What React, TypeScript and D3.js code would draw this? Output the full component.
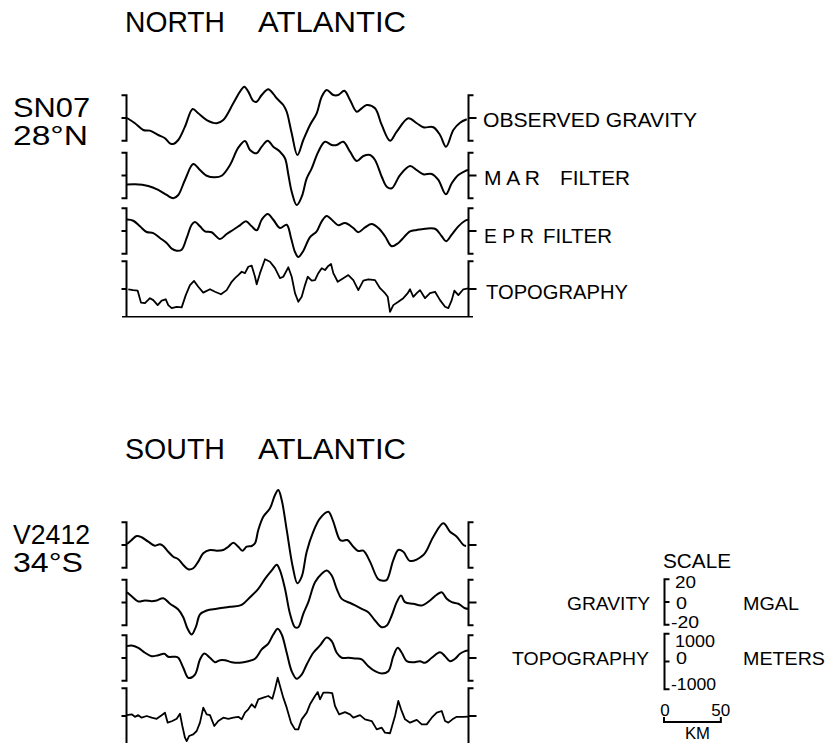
import React from "react";
import * as d3 from "d3";

const W = 829;
const H = 743;

// Profiles: [distance along track (km), value]. Gravity in mGal, topography in metres.
const northObserved: [number, number][] = [
  [0, 0], [7, -4.6], [14.3, -10.5], [20.2, -11.1], [27.5, -14.9], [33.4, -17.8], [37.8, -22.2],
  [40.7, -22.8], [45.1, -19.3], [51, -7.6], [57.8, 7.9], [62.7, 4.1], [70.1, -1.8], [78.9, -4.6],
  [84.7, -1.8], [93.5, 12.9], [99.4, 23.1], [103.2, 27.5], [106.7, 23.1], [111.1, 14.9],
  [114.1, 14.3], [118.5, 20.2], [124.3, 25.2], [128.7, 21.1], [131.7, 17.3], [137.5, 11.4],
  [140.5, 5.5], [144.9, -13.4], [149.9, -32.5], [155.1, -19.3], [161, -6.1], [166.9, 4.1],
  [171.3, 18.7], [175.7, 24.6], [181.5, 20.2], [185.9, 20.2], [191.2, 23.9], [196.2, 15.8],
  [202.1, 5.5], [206.5, 8.5], [210.9, 11.4], [218.2, 8.5], [224.1, -6.1], [231.4, -19.9],
  [237.3, -12], [247.5, -0.3], [254.9, -4.6], [260.7, -8.1], [269.5, -8.1], [275.4, -14.9],
  [280.7, -25.2], [287.1, -10.5], [293, -4.1], [298.9, -1.1],
];

const northMar: [number, number][] = [
  [0, -8], [7, -7.7], [18.7, -9.2], [27.5, -12.7], [34.9, -17.1], [40.7, -20], [45.1, -17.1],
  [51, -3.9], [58.3, 10.1], [64.2, 4.8], [70.1, -0.2], [77.4, -1.6], [83.3, -0.2], [90.6, 9.2],
  [97.9, 24.4], [103.8, 30.3], [108.2, 22.4], [114.1, 19.5], [118.5, 25.3], [123.8, 30.5],
  [128.7, 25.3], [134.6, 20.9], [139, 15.1], [142, 0.4], [144.9, -14.2], [149.3, -25.9],
  [153.7, -18.6], [158.1, -2.5], [162.5, 6.3], [168.3, 20.9], [174.2, 29.6], [180.1, 26.8],
  [184.5, 26.8], [190.3, 29.6], [196.2, 20.9], [202.1, 12.7], [208, 17.1], [213.8, 18],
  [218.2, 13.6], [224.1, -1.1], [228.5, -9.8], [232.9, -11.2], [240.2, 0.4], [249, 8.3],
  [254.9, 4.8], [260.7, 1.1], [268.1, 1.3], [273.9, -3.9], [280.5, -16.5], [285.7, -6.8],
  [291.5, 0.4], [297.4, 3.9], [300, 4.8],
];

const northEpr: [number, number][] = [
  [0, 10], [5.5, 9], [11.4, 4.1], [17.3, -0.9], [23.1, -1.8], [29, -6.1], [34.9, -10.5],
  [39.3, -15.5], [43.7, -17.3], [48.1, -16.4], [52.5, -6.1], [56.9, 5.5], [59.8, 7.9],
  [64.2, 4.1], [68.6, -0.3], [74.5, -1.1], [81.8, -7], [87.7, -2.6], [93.5, 1.1], [99.4, 5],
  [104.7, 8.5], [109.7, 4.1], [114.1, 0.6], [118.5, 9.9], [123.8, 14.9], [128.7, 9.9],
  [134.6, 2.6], [140.5, 5.5], [144.3, -6.1], [147.8, -18.4], [150.7, -22.8], [155.1, -17.5],
  [161, -5.3], [166.9, -0.3], [171.3, 8.5], [175.7, 13.2], [181.5, 8.5], [185.9, 5],
  [191.8, 7], [199.1, 2.6], [203.5, -1.1], [209.4, 3.2], [215.3, 6.1], [221.1, 2.6],
  [227, -4.6], [232.9, -13.4], [238.7, -10.5], [249, -0.4], [254.9, 0.9], [262.2, 2],
  [271, 2], [276.9, -4.6], [280.7, -9], [285.7, -3.2], [291.5, 4.1], [297.4, 9], [300, 10],
];

const northTopo: [number, number][] = [
  [1.1, -10], [5.5, -40], [9.4, -60], [12.3, -490], [15.8, -510], [20.2, -330], [23.1, -400],
  [27, -580], [30.5, -420], [34.1, -370], [36.3, -580], [39.3, -690], [43.7, -640],
  [48.1, -660], [51.7, -220], [55.4, 140], [59, 290], [62.7, 80], [67.1, -130], [73, -10],
  [77.4, -100], [82.7, -190], [87.7, -40], [92.1, 260], [95, 390], [97.9, 500], [100.9, 620],
  [103.8, 570], [106.7, 800], [109.7, 840], [112.6, 440], [114.1, 170], [117, 570],
  [121.4, 1070], [125.8, 980], [130.2, 750], [134.6, 390], [137.5, 440], [141.9, 780],
  [144.9, 440], [147.8, -150], [150.7, -460], [153.7, -280], [156.6, 140], [159, 440],
  [162.5, 300], [165.4, 320], [168.3, 570], [171.3, 750], [174.2, 680], [177.1, 830],
  [179.5, 900], [181.5, 570], [185.4, 260], [190.3, 390], [194.7, 500], [199.1, 320],
  [203.5, -40], [207.9, 300], [212.3, 350], [218.2, 320], [222.6, 30], [227, -150],
  [229.4, -280], [231.4, -820], [234.3, -580], [238.7, -460], [243.1, -330], [247, -150],
  [249, -10], [251.9, -280], [254.9, -150], [257.8, -40], [262.2, -330], [266.6, -150],
  [271, -100], [275.4, -400], [279.8, -640], [282.7, -690], [285.7, -400], [288, -60],
  [291.5, -220], [295.9, -10], [300.3, 20],
];

const southObserved: [number, number][] = [
  [0, 0.9], [4.1, 4.4], [8.5, 7.9], [12.9, 6.8], [18.7, 2.9], [24.6, -0.6], [29, 0.6],
  [31.9, -0.9], [36.3, -5.9], [40.7, -10.3], [45.1, -12.5], [49.5, -17.5], [53.9, -21.3],
  [58.3, -20.4], [62.7, -14.6], [67.1, -7.3], [73, -4.4], [78.9, -5], [84.7, -4.4],
  [89.1, -1.5], [93.5, 2], [97.9, -1.5], [101.5, -5], [105.3, -1.5], [109.7, -0.9],
  [112.6, 1.5], [115.5, 13.2], [119.9, 24.8], [125.8, 32.2], [130.2, 43.9], [133.1, 48.2],
  [136.1, 39.5], [140.5, 13.2], [145.8, -19], [149.9, -33.6], [153.7, -27.8], [158.1, -5.9],
  [163.9, 11.7], [169.8, 23.4], [177.1, 29.2], [181, 21.9], [187.4, 4.4], [190.3, 3.8],
  [193.9, 4.4], [199.1, -1.5], [203.5, -5.3], [207.9, -5], [213.8, -14.6], [221.1, -30.1],
  [225.5, -31.3], [228.5, -30.7], [234.3, -13.2], [238.7, -4.4], [243.1, -5.9], [249, -14],
  [260.7, -8.8], [269.5, 7.3], [278.3, 19], [284.2, 11.7], [290.1, 7.3], [296, 0],
  [298.3, -0.9],
];

const southMar: [number, number][] = [
  [0, 9], [4.1, 5.5], [10, 0.9], [15.8, 1.8], [21.7, 1.1], [26.1, 1.8], [31.9, 3.8],
  [37.8, -1.1], [45.1, -6.1], [49.5, -12.9], [53.2, -22.8], [56.9, -28.1], [60.7, -21.1],
  [64.2, -10.5], [70.1, -7], [78.9, -5.5], [90.6, -3.8], [100.9, -2], [108.2, 4.6],
  [115.5, 12], [121.4, 20.8], [127.3, 28.1], [131.7, 33.1], [134.6, 28.1], [139, 12],
  [143.4, -9.9], [147.8, -21.7], [150.7, -21.7], [155.1, -9.9], [159.5, 0.3], [165.4, 17.8],
  [171.3, 25.2], [175.7, 28.1], [180.1, 23.7], [184.5, 12], [188.9, 3.2], [197.7, -1.1],
  [206.5, -5.5], [212.3, -8.5], [218.2, -15.8], [224.1, -21.7], [228.5, -20.2],
  [232.9, -11.4], [237.3, 0.3], [241.1, 6.1], [244.6, 0.3], [251.9, -1.1], [259.3, -2.6],
  [266.6, 1.8], [272.5, 6.8], [276.9, 9], [281.3, 3.2], [285.7, 0.3], [291.5, -1.1],
  [297.4, -5], [300, -5.5],
];

const southEpr: [number, number][] = [
  [0, 10.4], [4.1, 11], [10, 8.9], [15.8, 4.6], [21.7, 1.6], [27.5, 2.5], [32.8, 3.7],
  [36.3, 1.1], [42.2, 1.1], [45.1, 0.2], [49.5, -8.6], [54.1, -17.5], [59.8, -14.5],
  [64.2, -1.3], [68, 3.9], [73, 0.2], [77.4, -3.7], [81.8, -1.9], [86.2, -1.9], [92.1, -3.7],
  [99.4, -4.2], [106.7, -2.8], [112.6, -0.7], [118.5, 7.5], [124.3, 12.7], [128.7, 20.6],
  [132.6, 25.6], [136.1, 20.6], [140.5, 4.6], [144.9, -11.6], [149.3, -18.2], [153.7, -14.5],
  [158.1, -5.7], [163.9, 4.6], [169.8, 11], [175.7, 18], [180.1, 14.7], [184.5, 4.6],
  [188.9, 0.2], [194.7, 0.2], [200.6, -0.4], [206.5, -1.3], [212.3, -7.2], [218.2, -11.6],
  [224.1, -13.6], [229.9, -11.6], [234.3, 1.6], [238.2, 8.9], [241.7, 4.6], [246.1, -2.8],
  [251.9, -3.7], [257.8, -2.8], [262.2, -4.2], [268.1, 0.2], [275.4, 5.1], [279.8, 1.6],
  [284.2, -2.8], [288.6, -0.7], [293, 3.7], [297.4, 6], [300, 6.5],
];

const southTopo: [number, number][] = [
  [0, 30], [4.1, 60], [7, -30], [9.9, 30], [12.9, -60], [17.3, 0], [21.7, -60], [26.1, -100],
  [30.5, 30], [33.4, 120], [35.8, -240], [39.9, -180], [43.7, -100], [46.6, 80], [48.7, -360],
  [51, -780], [52.5, -900], [54.6, -720], [58.3, -660], [61.3, -540], [64.2, -240],
  [67.1, 300], [70.1, 60], [73, 30], [76.8, -360], [80.3, -180], [84.7, -60], [89.1, -100],
  [93.5, -60], [97.9, -30], [100.9, -120], [103.8, 120], [106.7, 240], [109.7, 420],
  [112.6, 300], [115.5, 600], [119.9, 660], [124.3, 720], [127.9, 620], [130.2, 960],
  [132.6, 1380], [134.6, 1080], [137.5, 660], [140.5, 300], [144.3, -240], [147.8, -480],
  [150.7, -480], [153.7, -120], [158.1, 120], [161, 420], [165.4, 720], [167.8, 860],
  [169.8, 600], [172.7, 840], [177.1, 840], [180.6, 820], [183, 360], [186.6, 60],
  [191.8, 140], [196.2, 60], [199.1, -60], [205, 30], [209.4, -120], [215.3, -180],
  [219.7, -480], [224.1, -420], [227, -600], [231.4, -620], [235.8, 0], [238.7, 540],
  [241.1, 240], [244.6, -120], [249, -240], [254.9, -140], [259.3, -300], [263.7, -300],
  [268.1, -60], [272.5, 120], [276.9, 180], [279.8, -180], [282.7, -240], [286.3, -120],
  [290.1, -30], [296, -30], [300, -20],
];

const profileLabels = ["OBSERVED GRAVITY", "MAR FILTER", "EPR FILTER", "TOPOGRAPHY"];
const kmDomain: [number, number] = [0, 300];
const gravityRange: [number, number] = [-20, 20];
const topoRange: [number, number] = [-1000, 1000];
const gravityScaleTicks = ["20", "0", "-20"];
const topoScaleTicks = ["1000", "0", "-1000"];
const distanceTicks = ["0", "50"];

const FONT = "'Liberation Sans', Arial, Helvetica, sans-serif";

const x = d3.scaleLinear().domain(kmDomain).range([127, 468]);
const GRAV_HALF = 22.8; // px for 20 mGal
const TOPO_HALF = 27.8; // px for 1000 m
const gravY = (cy: number) =>
  d3.scaleLinear().domain(gravityRange).range([cy + GRAV_HALF, cy - GRAV_HALF]);
const topoY = (cy: number) =>
  d3.scaleLinear().domain(topoRange).range([cy + TOPO_HALF, cy - TOPO_HALF]);

const ROW_CENTERS = [118, 175.5, 231, 289];
const PANEL_SHIFT = 427;

const panels = [
  {
    key: "north",
    title: ["NORTH", "ATLANTIC"],
    cruise: ["SN07", "28°N"],
    profiles: [northObserved, northMar, northEpr, northTopo],
    shift: 0,
    labelled: true,
  },
  {
    key: "south",
    title: ["SOUTH", "ATLANTIC"],
    cruise: ["V2412", "34°S"],
    profiles: [southObserved, southMar, southEpr, southTopo],
    shift: PANEL_SHIFT,
    labelled: false,
  },
];

function bracketPath(bx: number, top: number, mid: number, bottom: number, dir: number, serif = true) {
  const s = 5;
  const t = dir > 0 ? 8 : 5;
  const topPart = `M ${bx + dir * s} ${top} H ${bx}`;
  const bottomPart = serif ? ` V ${bottom} H ${bx + dir * s}` : ` V ${bottom}`;
  return `${topPart}${bottomPart} M ${bx} ${mid} H ${bx + dir * t}`;
}

function Panel({ p }: { p: (typeof panels)[number] }) {
  const gLine = d3
    .line<[number, number]>()
    .curve(d3.curveCatmullRom.alpha(0.5));
  const tLine = d3.line<[number, number]>().curve(d3.curveLinear);
  const ty = 31.5 + p.shift;
  return (
    <g>
      <text x={125} y={ty} fontSize={29} textLength={100} lengthAdjust="spacingAndGlyphs">
        {p.title[0]}
      </text>
      <text x={258} y={ty} fontSize={29} textLength={148} lengthAdjust="spacingAndGlyphs">
        {p.title[1]}
      </text>
      <text x={13} y={117 + p.shift} fontSize={28} textLength={77} lengthAdjust="spacingAndGlyphs">
        {p.cruise[0]}
      </text>
      <text x={13} y={145 + p.shift} fontSize={28} textLength={p.key === "north" ? 75 : 70} lengthAdjust="spacingAndGlyphs">
        {p.cruise[1]}
      </text>
      {p.profiles.map((data, i) => {
        const cy = ROW_CENTERS[i] + p.shift;
        const isTopo = i === 3;
        const y = isTopo ? topoY(cy) : gravY(cy);
        const top = isTopo ? y(1000) : y(20);
        let bottom = isTopo ? y(-1000) : y(-20);
        const openBottom = isTopo && p.shift > 0;
        if (openBottom) bottom = H + 4;
        const gen = isTopo ? tLine : gLine;
        gen.x((d) => x(d[0])).y((d) => y(d[1]));
        return (
          <g key={i}>
            <path
              d={bracketPath(x(0) - 0.5, top, cy, bottom, -1, !isTopo)}
              fill="none"
              stroke="#000"
              strokeWidth={2}
            />
            <path
              d={bracketPath(x(300) + 0.5, top, cy, bottom, 1, !isTopo)}
              fill="none"
              stroke="#000"
              strokeWidth={2}
            />
            {isTopo && !openBottom && (
              <line x1={122} x2={473} y1={bottom} y2={bottom} stroke="#000" strokeWidth={1.6} />
            )}
            <path
              d={gen(data) || ""}
              fill="none"
              stroke="#000"
              strokeWidth={isTopo ? 1.8 : 2}
              strokeLinejoin="round"
            />
          </g>
        );
      })}
    </g>
  );
}

function ProfileLabels() {
  const fs = 20;
  return (
    <g fontSize={fs}>
      <text x={483} y={126.5} textLength={214} lengthAdjust="spacingAndGlyphs">
        {profileLabels[0]}
      </text>
      <text x={484} y={184.5} textLength={56} lengthAdjust="spacingAndGlyphs">
        {profileLabels[1].split(" ")[0].split("").join(" ")}
      </text>
      <text x={560} y={184.5} textLength={70} lengthAdjust="spacingAndGlyphs">
        {profileLabels[1].split(" ")[1]}
      </text>
      <text x={484} y={243} textLength={50} lengthAdjust="spacingAndGlyphs">
        {profileLabels[2].split(" ")[0].split("").join(" ")}
      </text>
      <text x={543} y={243} textLength={69} lengthAdjust="spacingAndGlyphs">
        {profileLabels[2].split(" ")[1]}
      </text>
      <text x={486} y={298.5} textLength={142} lengthAdjust="spacingAndGlyphs">
        {profileLabels[3]}
      </text>
    </g>
  );
}

function ScaleKey() {
  const bx = 664.5;
  const gy = gravY(602);
  const tyS = topoY(661.5);
  const x0 = 664;
  const x50 = x0 + (x(50) - x(0));
  return (
    <g>
      <text x={663} y={568} fontSize={20} textLength={68} lengthAdjust="spacingAndGlyphs">
        SCALE
      </text>
      <path
        d={bracketPath(bx, gy(20), gy(0), gy(-20), 1).replace(/H (\S+)$/, "H " + (bx + 5))}
        fill="none"
        stroke="#000"
        strokeWidth={2}
      />
      <g fontSize={17}>
        <text x={675} y={587.5} textLength={21} lengthAdjust="spacingAndGlyphs">{gravityScaleTicks[0]}</text>
        <text x={676} y={609} textLength={11} lengthAdjust="spacingAndGlyphs">{gravityScaleTicks[1]}</text>
        <text x={671} y={627.5} textLength={28} lengthAdjust="spacingAndGlyphs">{gravityScaleTicks[2]}</text>
      </g>
      <text x={567} y={610} fontSize={19} textLength={83} lengthAdjust="spacingAndGlyphs">GRAVITY</text>
      <text x={743} y={610} fontSize={19} textLength={56} lengthAdjust="spacingAndGlyphs">MGAL</text>

      <path
        d={bracketPath(bx, tyS(1000), tyS(0), tyS(-1000), 1).replace(/H (\S+)$/, "H " + (bx + 5))}
        fill="none"
        stroke="#000"
        strokeWidth={2}
      />
      <g fontSize={17}>
        <text x={675} y={646.5} textLength={40} lengthAdjust="spacingAndGlyphs">{topoScaleTicks[0]}</text>
        <text x={676} y={664} textLength={11} lengthAdjust="spacingAndGlyphs">{topoScaleTicks[1]}</text>
        <text x={671} y={689.5} textLength={45} lengthAdjust="spacingAndGlyphs">{topoScaleTicks[2]}</text>
      </g>
      <text x={512} y={665} fontSize={19} textLength={137} lengthAdjust="spacingAndGlyphs">TOPOGRAPHY</text>
      <text x={743} y={665} fontSize={19} textLength={82} lengthAdjust="spacingAndGlyphs">METERS</text>

      <path
        d={`M ${x0} 717 V 722 H ${x50} V 717`}
        fill="none"
        stroke="#000"
        strokeWidth={2}
      />
      <g fontSize={17} textAnchor="middle">
        <text x={x0 + 1} y={716}>{distanceTicks[0]}</text>
        <text x={x50} y={716}>{distanceTicks[1]}</text>
      </g>
      <text x={697.5} y={739} fontSize={16} textAnchor="middle" textLength={25} lengthAdjust="spacingAndGlyphs">KM</text>
    </g>
  );
}

export default function App() {
  return (
    <svg
      width={W}
      height={H}
      viewBox={`0 0 ${W} ${H}`}
      style={{ position: "absolute", left: 0, top: 0, display: "block", background: "#fff" }}
      fontFamily={FONT}
      fill="#000"
    >
      <rect width={W} height={H} fill="#fff" />
      {panels.map((p) => (
        <Panel key={p.key} p={p} />
      ))}
      <ProfileLabels />
      <ScaleKey />
    </svg>
  );
}
